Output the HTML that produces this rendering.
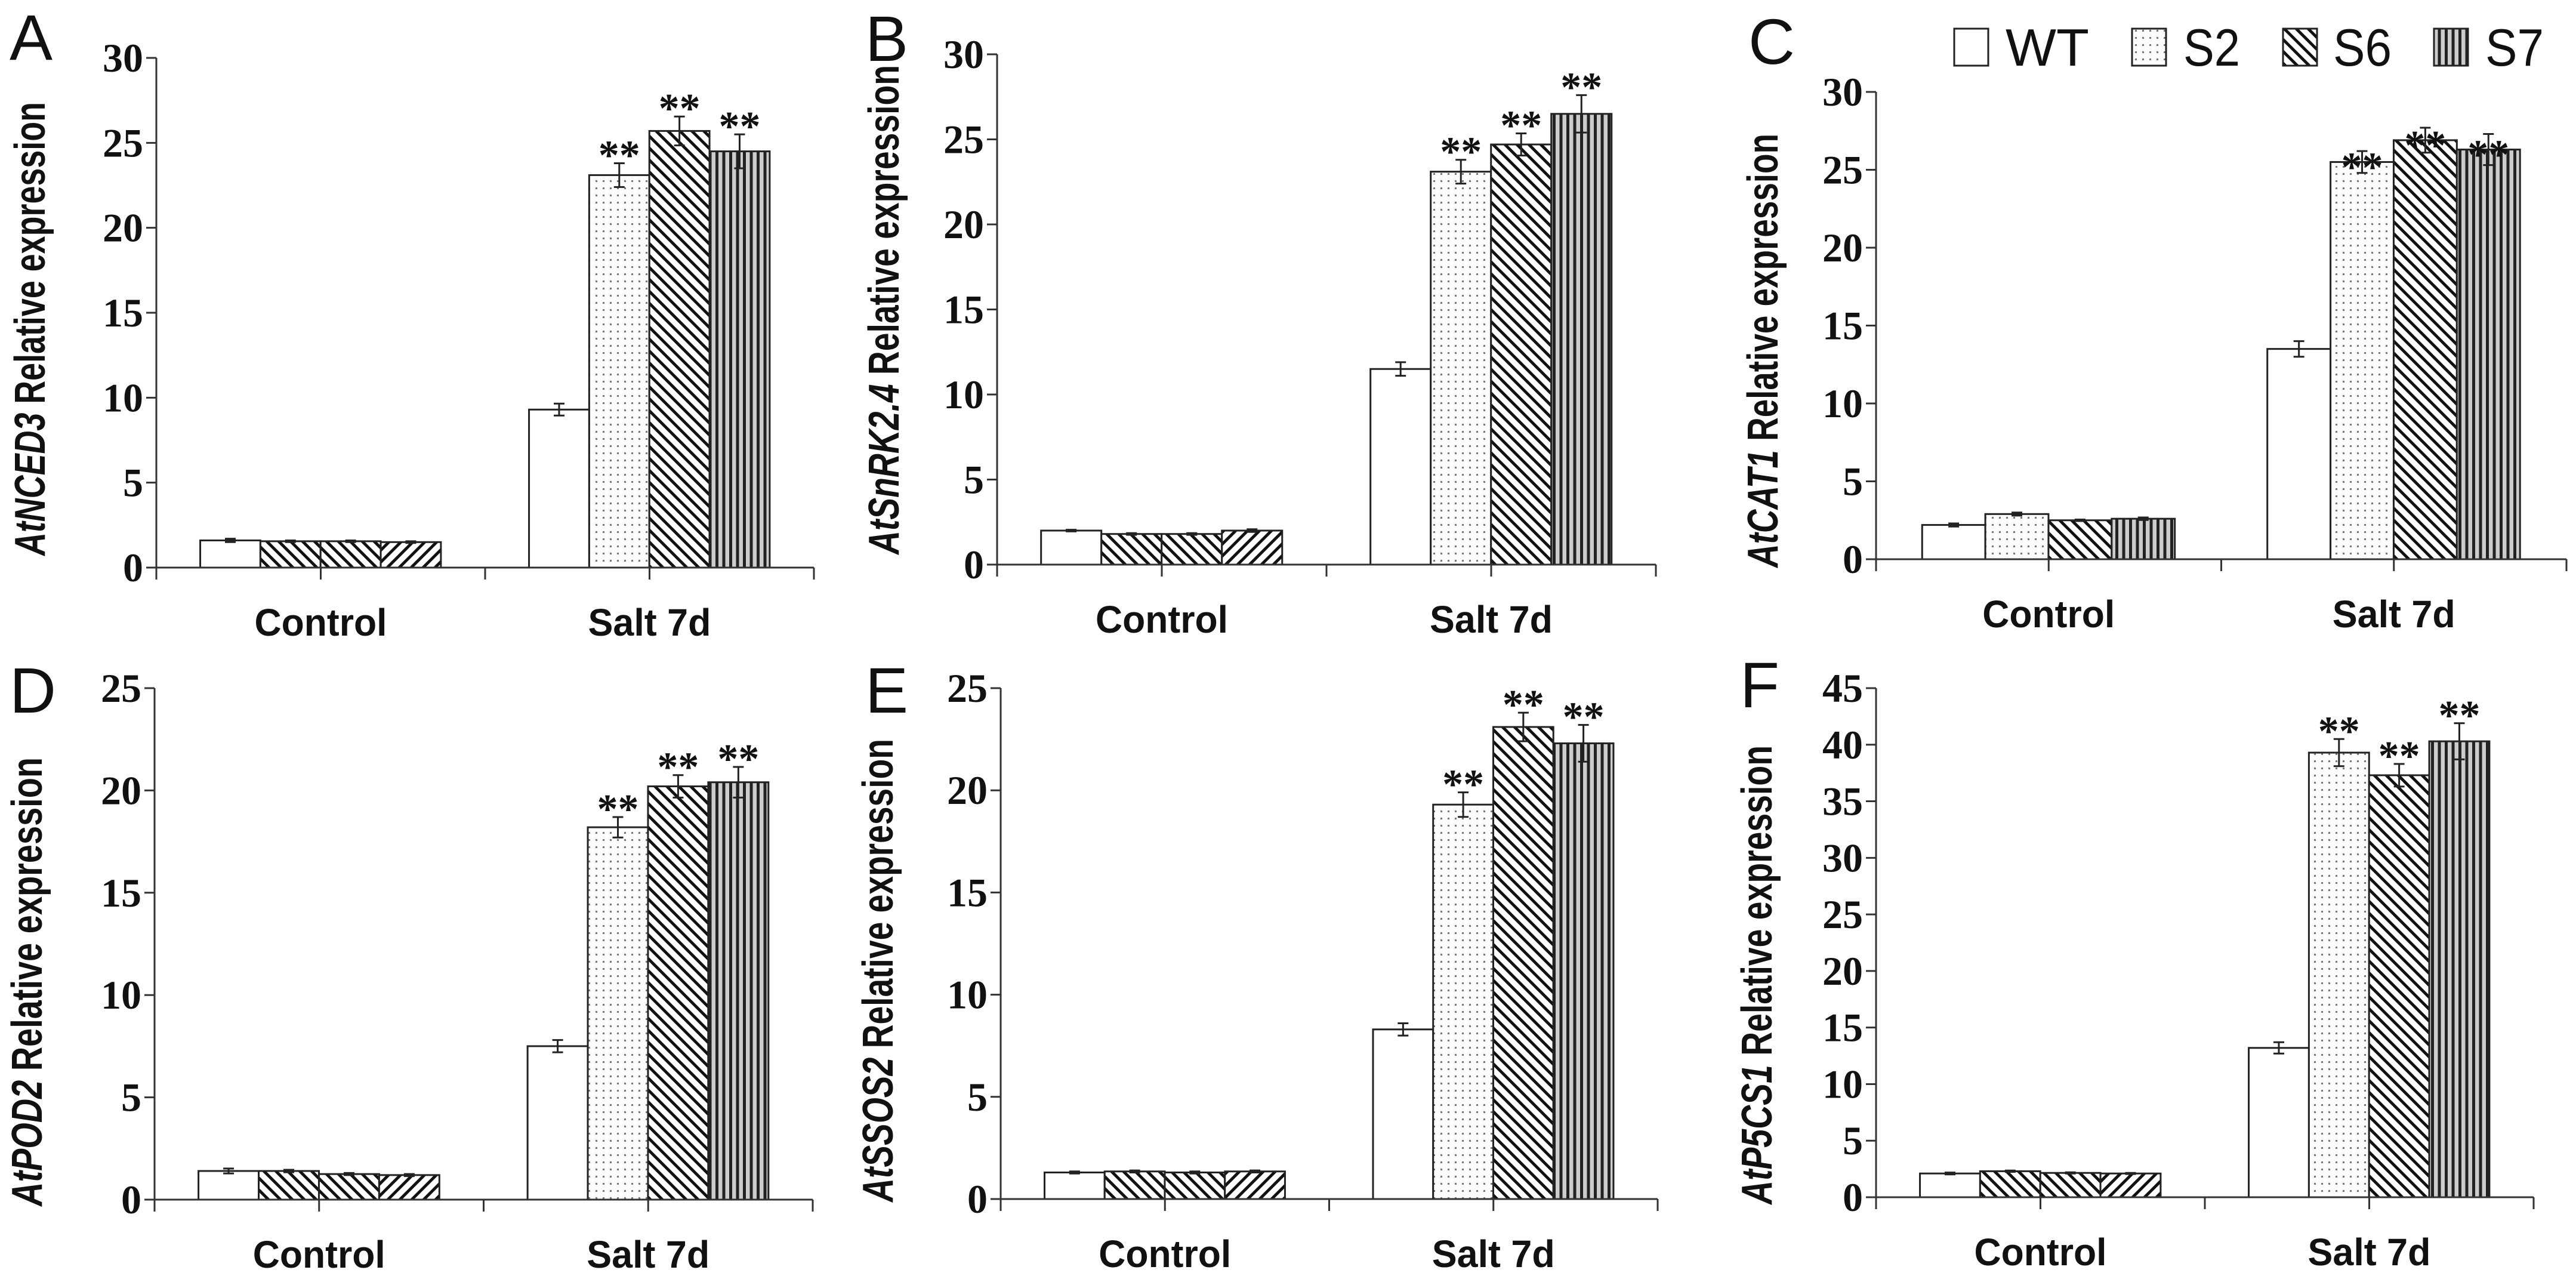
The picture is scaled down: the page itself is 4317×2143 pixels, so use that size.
<!DOCTYPE html>
<html><head><meta charset="utf-8"><style>
html,body{margin:0;padding:0;background:#fff;}
svg{display:block;}
</style></head><body>
<svg id="fig" xmlns="http://www.w3.org/2000/svg" width="4317" height="2143" viewBox="0 0 4317 2143">
<defs>
<pattern id="pDots" patternUnits="userSpaceOnUse" width="12" height="12"><rect width="12" height="12" fill="#fff"/><rect x="2" y="2" width="3" height="3" fill="#777"/></pattern>
<pattern id="pBack" patternUnits="userSpaceOnUse" width="20" height="20"><rect width="20" height="20" fill="#fff"/><path d="M-5,-5 L25,25 M-5,15 L5,25 M15,-5 L25,5" stroke="#111" stroke-width="5"/></pattern>
<pattern id="pFwd" patternUnits="userSpaceOnUse" width="20" height="20"><rect width="20" height="20" fill="#fff"/><path d="M-5,25 L25,-5 M-5,5 L5,-5 M15,25 L25,15" stroke="#111" stroke-width="5"/></pattern>
<pattern id="pVert" patternUnits="userSpaceOnUse" width="11.5" height="10"><rect width="11.5" height="10" fill="#ccc"/><rect x="3" width="5" height="10" fill="#222"/></pattern>
</defs>
<g id="root"></g>
</svg>
<script>
const categories = ["Control", "Salt 7d"];
const seriesNames = ["WT", "S2", "S6", "S7"];
const panelLetters = ["A", "B", "C", "D", "E", "F"];
const geneNames = ["AtNCED3", "AtSnRK2.4", "AtCAT1", "AtPOD2", "AtSSOS2", "AtP5CS1"];
const yMaxes = [30, 30, 30, 25, 25, 45];
const yTickLabels = [
  ["0","5","10","15","20","25","30"],
  ["0","5","10","15","20","25","30"],
  ["0","5","10","15","20","25","30"],
  ["0","5","10","15","20","25"],
  ["0","5","10","15","20","25"],
  ["0","5","10","15","20","25","30","35","40","45"]
];
const controlValues = [
  [1.6, 1.55, 1.55, 1.5],
  [2.0, 1.8, 1.8, 2.0],
  [2.2, 2.9, 2.5, 2.6],
  [1.4, 1.4, 1.25, 1.2],
  [1.3, 1.35, 1.3, 1.35],
  [2.1, 2.3, 2.15, 2.1]
];
const controlErrors = [
  [0.1, 0.05, 0.05, 0.05],
  [0.05, 0.05, 0.05, 0.08],
  [0.1, 0.1, 0.05, 0.08],
  [0.12, 0.06, 0.05, 0.05],
  [0.05, 0.05, 0.05, 0.05],
  [0.08, 0.06, 0.05, 0.05]
];
const saltValues = [
  [9.3, 23.1, 25.7, 24.5],
  [11.5, 23.1, 24.7, 26.5],
  [13.5, 25.5, 26.9, 26.3],
  [7.5, 18.2, 20.2, 20.4],
  [8.3, 19.3, 23.1, 22.3],
  [13.2, 39.3, 37.3, 40.3]
];
const saltErrors = [
  [0.35, 0.7, 0.85, 1.0],
  [0.4, 0.7, 0.65, 1.1],
  [0.5, 0.7, 0.8, 1.0],
  [0.3, 0.5, 0.55, 0.75],
  [0.3, 0.6, 0.7, 0.9],
  [0.5, 1.2, 1.0, 1.6]
];
const starMarks = ["", "**", "**", "**"];

const frames = [
  {x0:262, x1:1364, yt:97,  yb:951,  tx:51,   ty0:171,  ty1:931,  lx:16,   ly:100,  starMode:0},
  {x0:1671,x1:2775, yt:91,  yb:946,  tx:1482, ty0:109,  ty1:929,  lx:1450, ly:102,  starMode:0},
  {x0:3144,x1:4301, yt:154, yb:937,  tx:2955, ty0:224,  ty1:951,  lx:2930, ly:107,  starMode:1},
  {x0:259, x1:1362, yt:1153,yb:2010, tx:46,   ty0:1269, ty1:2021, lx:16,   ly:1194, starMode:0},
  {x0:1677,x1:2778, yt:1153,yb:2009, tx:1472, ty0:1238, ty1:2014, lx:1450, ly:1194, starMode:0},
  {x0:3144,x1:4246, yt:1153,yb:2006, tx:2945, ty0:1249, ty1:2018, lx:2916, ly:1185, starMode:0}
];
const fillsSalt = ["#fff","url(#pDots)","url(#pBack)","url(#pVert)"];
const fillsControl = [
  ["#fff","url(#pBack)","url(#pBack)","url(#pFwd)"],
  ["#fff","url(#pBack)","url(#pBack)","url(#pFwd)"],
  ["#fff","url(#pDots)","url(#pBack)","url(#pVert)"],
  ["#fff","url(#pBack)","url(#pBack)","url(#pFwd)"],
  ["#fff","url(#pBack)","url(#pBack)","url(#pFwd)"],
  ["#fff","url(#pBack)","url(#pBack)","url(#pFwd)"]
];

const NS = "http://www.w3.org/2000/svg";
const root = document.getElementById("root");
function mk(tag, attrs, parent) {
  const e = document.createElementNS(NS, tag);
  for (const k in attrs) e.setAttribute(k, attrs[k]);
  (parent || root).appendChild(e);
  return e;
}

for (let p = 0; p < 6; p++) {
  const f = frames[p];
  const g = mk("g", {});
  
  
  const yScale = v => f.yb - (v / yMaxes[p]) * (f.yb - f.yt);
  const cw = (f.x1 - f.x0) / categories.length;
  const bw = cw * 0.183;
  const xBar = (c, s) => f.x0 + c * cw + cw * 0.1335 + s * bw;

  const pl = mk("text", {x:f.lx, y:f.ly, "font-family":"Liberation Sans, sans-serif", "font-size":108, fill:"#111"}, g);
  pl.textContent = panelLetters[p];
  
  

  const tcy = (f.ty0 + f.ty1) / 2;
  const tt = mk("text", {x:f.tx, y:tcy, transform:`rotate(-90 ${f.tx} ${tcy})`, "text-anchor":"middle", "dominant-baseline":"central",
    "font-family":"Liberation Sans, sans-serif", "font-weight":"bold", "font-size":72, fill:"#111",
    textLength:(f.ty1 - f.ty0), lengthAdjust:"spacingAndGlyphs"}, g);
  
  
  const ts1 = mk("tspan", {"font-style":"italic"}, tt); ts1.textContent = geneNames[p];
  const ts2 = mk("tspan", {}, tt); ts2.textContent = " Relative expression";

  yTickLabels[p].forEach(lbl => {
    const v = parseFloat(lbl), y = yScale(v);
    mk("line", {x1:f.x0 - 17, x2:f.x0, y1:y, y2:y, stroke:"#333", "stroke-width":3}, g);
    const t = mk("text", {x:f.x0 - 22, y:y + 23, "text-anchor":"end", "font-family":"Liberation Serif, serif",
      "font-weight":"bold", "font-size":68, fill:"#111"}, g);
    t.textContent = lbl;
    
    
  });

  const groups = [controlValues[p], saltValues[p]];
  const errs = [controlErrors[p], saltErrors[p]];
  for (let c = 0; c < 2; c++) {
    for (let s = 0; s < 4; s++) {
      const v = groups[c][s], e = errs[c][s];
      const x = xBar(c, s), y = yScale(v);
      const r = mk("rect", {x:x, y:y, width:bw, height:f.yb - y, fill:(c === 0 ? fillsControl[p][s] : fillsSalt[s]),
        stroke:"#222", "stroke-width":3}, g);
      
      
      const cx = x + bw / 2, yt = yScale(v + e), ybt = yScale(v - e);
      const eb = mk("path", {d:`M${cx},${yt} L${cx},${ybt} M${cx-9},${yt} L${cx+9},${yt} M${cx-9},${ybt} L${cx+9},${ybt}`,
        stroke:"#222", "stroke-width":3, fill:"none"}, g);
      
      
      if (c === 1 && starMarks[s]) {
        const sy = f.starMode === 1 ? y + 32 : yt + 10;
        const st = mk("text", {x:cx, y:sy, "text-anchor":"middle", "font-family":"Liberation Serif, serif",
          "font-weight":"bold", "font-size":70, fill:"#111"}, g);
        st.textContent = starMarks[s];
        
        
      }
    }
  }

  const ya = mk("line", {x1:f.x0, x2:f.x0, y1:f.yt, y2:f.yb, stroke:"#333", "stroke-width":3}, g);
  
  
  const xa = mk("line", {x1:f.x0, x2:f.x1, y1:f.yb, y2:f.yb, stroke:"#333", "stroke-width":3}, g);
  
  
  for (let k = 0; k <= 4; k++) {
    const x = f.x0 + k * cw / 2;
    mk("line", {x1:x, x2:x, y1:f.yb, y2:f.yb + 20, stroke:"#333", "stroke-width":3}, g);
  }
  categories.forEach((cat, c) => {
    const t = mk("text", {x:f.x0 + (c + 0.5) * cw, y:f.yb + 114, "text-anchor":"middle", "font-family":"Liberation Sans, sans-serif",
      "font-weight":"bold", "font-size":64, fill:"#111", textLength:(c === 0 ? 222 : 206), lengthAdjust:"spacingAndGlyphs"}, g);
    t.textContent = cat;
    
    
  });
}

const legend = mk("g", {});


const legBoxX = [3275, 3573, 3826, 4079];
const legTxtX = [3361, 3659, 3910, 4165];
const legTxtW = [140, 95, 98, 98];
seriesNames.forEach((n, i) => {
  const ent = mk("g", {}, legend);
  
  
  mk("rect", {x:legBoxX[i], y:48, width:57, height:62, fill:fillsSalt[i], stroke:"#222", "stroke-width":3}, ent);
  const t = mk("text", {x:legTxtX[i], y:110, "font-family":"Liberation Sans, sans-serif", "font-size":88, fill:"#111",
    textLength:legTxtW[i], lengthAdjust:"spacingAndGlyphs"}, ent);
  t.textContent = n;
});
</script>
</body></html>
